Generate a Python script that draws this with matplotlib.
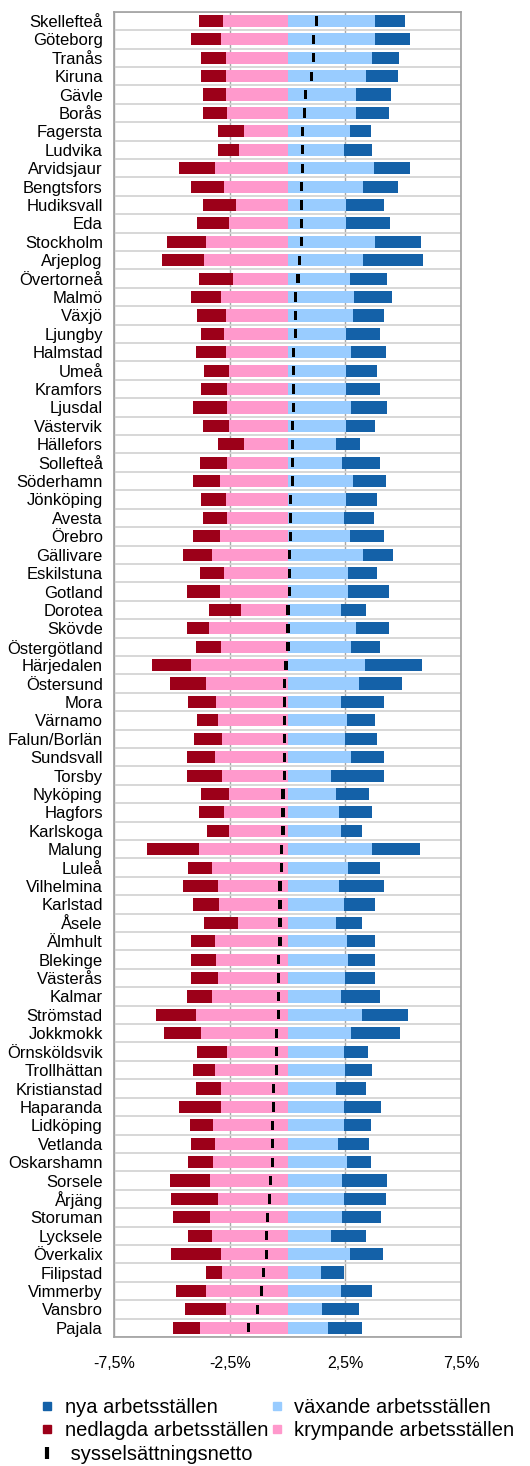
import matplotlib
matplotlib.use('Agg')
import matplotlib.pyplot as plt
from matplotlib.lines import Line2D
import numpy as np

plt.rcParams['font.family'] = ['Liberation Sans', 'DejaVu Sans']

# Andel av sysselsättningen (%) per arbetsmarknad
regioner = ['Skellefteå', 'Göteborg', 'Tranås', 'Kiruna', 'Gävle', 'Borås', 'Fagersta',
            'Ludvika', 'Arvidsjaur', 'Bengtsfors', 'Hudiksvall', 'Eda', 'Stockholm',
            'Arjeplog', 'Övertorneå', 'Malmö', 'Växjö', 'Ljungby', 'Halmstad', 'Umeå',
            'Kramfors', 'Ljusdal', 'Västervik', 'Hällefors', 'Sollefteå', 'Söderhamn',
            'Jönköping', 'Avesta', 'Örebro', 'Gällivare', 'Eskilstuna', 'Gotland',
            'Dorotea', 'Skövde', 'Östergötland', 'Härjedalen', 'Östersund', 'Mora',
            'Värnamo', 'Falun/Borlän', 'Sundsvall', 'Torsby', 'Nyköping', 'Hagfors',
            'Karlskoga', 'Malung', 'Luleå', 'Vilhelmina', 'Karlstad', 'Åsele', 'Älmhult',
            'Blekinge', 'Västerås', 'Kalmar', 'Strömstad', 'Jokkmokk', 'Örnsköldsvik',
            'Trollhättan', 'Kristianstad', 'Haparanda', 'Lidköping', 'Vetlanda',
            'Oskarshamn', 'Sorsele', 'Årjäng', 'Storuman', 'Lycksele', 'Överkalix',
            'Filipstad', 'Vimmerby', 'Vansbro', 'Pajala']

vaxande = [3.78, 3.78, 3.66, 3.41, 2.94, 2.94, 2.68, 2.43, 3.73, 3.28, 2.54, 2.54, 3.78,
           3.28, 2.68, 2.87, 2.82, 2.54, 2.75, 2.54, 2.54, 2.75, 2.54, 2.09, 2.35, 2.82,
           2.54, 2.43, 2.68, 3.28, 2.61, 2.61, 2.29, 2.94, 2.74, 3.33, 3.07, 2.29, 2.55,
           2.48, 2.74, 1.90, 2.09, 2.22, 2.29, 3.65, 2.61, 2.22, 2.42, 2.09, 2.55, 2.61,
           2.48, 2.29, 3.20, 2.74, 2.42, 2.48, 2.09, 2.42, 2.42, 2.16, 2.55, 2.35, 2.42,
           2.35, 1.90, 2.68, 1.43, 2.29, 1.51, 1.77]
nya = [1.31, 1.51, 1.17, 1.37, 1.52, 1.44, 0.91, 1.23, 1.56, 1.50, 1.64, 1.90, 1.97,
       2.59, 1.63, 1.64, 1.36, 1.45, 1.50, 1.32, 1.45, 1.56, 1.25, 1.05, 1.64, 1.43,
       1.32, 1.30, 1.50, 1.29, 1.25, 1.77, 1.10, 1.44, 1.25, 2.48, 1.89, 1.88, 1.23,
       1.38, 1.43, 2.27, 1.43, 1.43, 0.91, 2.09, 1.38, 1.95, 1.36, 1.11, 1.23, 1.17,
       1.30, 1.70, 2.02, 2.14, 1.04, 1.17, 1.30, 1.62, 1.17, 1.36, 1.04, 1.95, 1.83,
       1.69, 1.49, 1.44, 0.99, 1.36, 1.56, 1.43]
krympande = [2.79, 2.86, 2.67, 2.67, 2.67, 2.60, 1.89, 2.08, 3.14, 2.74, 2.21, 2.54, 3.51,
             3.59, 2.34, 2.86, 2.67, 2.74, 2.67, 2.54, 2.60, 2.60, 2.54, 1.89, 2.60, 2.93,
             2.67, 2.60, 2.93, 3.25, 2.74, 2.93, 2.03, 3.39, 2.87, 4.17, 3.52, 3.07, 3.00,
             2.81, 3.13, 2.81, 2.55, 2.74, 2.55, 3.84, 3.26, 3.00, 2.94, 2.16, 3.13, 3.07,
             3.00, 3.26, 3.97, 3.72, 2.61, 3.13, 2.87, 2.87, 3.20, 3.13, 3.20, 3.33, 3.00,
             3.33, 3.26, 2.87, 2.81, 3.52, 2.68, 3.78]
nedlagda = [1.05, 1.29, 1.05, 1.05, 0.97, 1.04, 1.10, 0.91, 1.56, 1.41, 1.43, 1.37, 1.70,
            1.83, 1.50, 1.29, 1.24, 0.98, 1.30, 1.05, 1.12, 1.49, 1.10, 1.10, 1.17, 1.16,
            1.05, 1.04, 1.16, 1.25, 1.03, 1.43, 1.36, 0.97, 1.10, 1.70, 1.57, 1.23, 0.91,
            1.22, 1.23, 1.55, 1.17, 1.10, 0.91, 2.23, 1.04, 1.51, 1.16, 1.43, 1.04, 1.10,
            1.17, 1.10, 1.71, 1.63, 1.30, 0.97, 1.10, 1.84, 1.03, 1.04, 1.10, 1.76, 2.03,
            1.63, 1.04, 2.16, 0.71, 1.31, 1.75, 1.18]
netto = [1.24, 1.12, 1.12, 1.05, 0.78, 0.72, 0.66, 0.66, 0.66, 0.59, 0.59, 0.59, 0.59,
         0.51, 0.45, 0.33, 0.33, 0.33, 0.27, 0.27, 0.27, 0.27, 0.21, 0.21, 0.21, 0.21,
         0.14, 0.14, 0.14, 0.08, 0.08, 0.08, 0.02, 0.02, 0.02, -0.07, -0.13, -0.13, -0.13,
         -0.13, -0.13, -0.13, -0.20, -0.20, -0.20, -0.26, -0.26, -0.33, -0.33, -0.33, -0.33,
         -0.39, -0.39, -0.39, -0.39, -0.46, -0.46, -0.46, -0.59, -0.59, -0.65, -0.65, -0.65,
         -0.72, -0.78, -0.86, -0.91, -0.91, -1.04, -1.12, -1.30, -1.70]

c_nya = '#1461a8'
c_vax = '#99ccff'
c_ned = '#9c0019'
c_kry = '#ff99cc'

y = np.arange(len(regioner))
vax = np.array(vaxande)
kry = np.array(krympande)

fig = plt.figure(figsize=(5.30, 14.66), dpi=100)
ax = fig.add_axes([0.215, 0.088, 0.655, 0.904])

h = 0.66
ax.barh(y, vax, height=h, color=c_vax, lw=0, zorder=2)
ax.barh(y, nya, left=vax, height=h, color=c_nya, lw=0, zorder=2)
ax.barh(y, -kry, height=h, color=c_kry, lw=0, zorder=2)
ax.barh(y, -np.array(nedlagda), left=-kry, height=h, color=c_ned, lw=0, zorder=2)

# nettot som ett smalt svart streck
w = 0.14
ax.barh(y, w, left=np.array(netto) - w / 2, height=0.5, color='black', lw=0, zorder=3)

ax.set_xlim(-7.5, 7.5)
ax.set_ylim(len(regioner) - 0.5, -0.5)
ax.set_xticks([-7.5, -2.5, 2.5, 7.5])
ax.set_xticklabels(['-7,5%', '-2,5%', '2,5%', '7,5%'], fontsize=11.5)
ax.set_yticks(y)
ax.set_yticklabels(regioner, fontsize=12)
ax.set_yticks(np.arange(len(regioner) + 1) - 0.5, minor=True)
ax.tick_params(axis='both', which='both', length=0)
ax.tick_params(axis='x', pad=14)
ax.tick_params(axis='y', pad=8)
ax.grid(axis='y', which='minor', color='#d4d4d4', lw=1.3, zorder=0)
ax.grid(axis='x', which='major', color='#a8a8a8', lw=1.0, zorder=0)
for s in ax.spines.values():
    s.set_color('#a0a0a0')
    s.set_linewidth(1.2)

handles = [
    Line2D([], [], ls='none', marker='s', ms=6, color=c_nya),
    Line2D([], [], ls='none', marker='s', ms=6, color=c_ned),
    Line2D([], [], ls='none', marker='|', ms=8, mew=3, color='black'),
    Line2D([], [], ls='none', marker='s', ms=6, color=c_vax),
    Line2D([], [], ls='none', marker='s', ms=6, color=c_kry),
]
labels = ['nya arbetsställen', 'nedlagda arbetsställen', ' sysselsättningsnetto',
          'växande arbetsställen', 'krympande arbetsställen']
fig.legend(handles, labels, loc='upper left', bbox_to_anchor=(0.08, 1 - 1398 / 1466),
           ncol=2, frameon=False, fontsize=14.5, handlelength=0.5, handletextpad=0.6,
           labelspacing=0.22, columnspacing=0.2, borderpad=0, borderaxespad=0)

fig.savefig('out.png', dpi=100)
